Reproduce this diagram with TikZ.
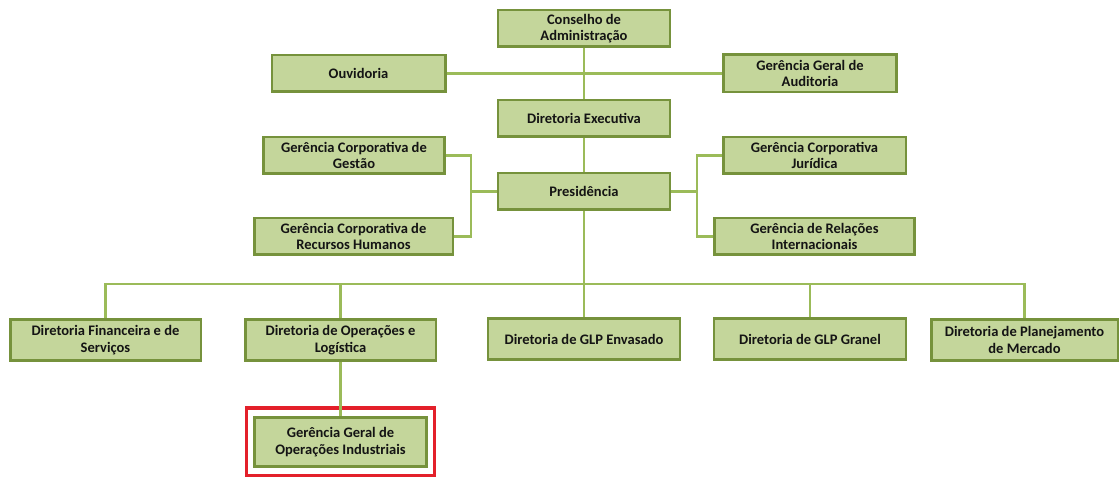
\documentclass[tikz,border=0pt]{standalone}
\usepackage{fontspec}
\setmainfont{Carlito}
\usetikzlibrary{fit}
\definecolor{boxfill}{HTML}{C4D69B}
\definecolor{boxline}{HTML}{76923C}
\definecolor{conline}{HTML}{9BBB59}
\definecolor{txt}{HTML}{141414}
\definecolor{hl}{HTML}{E3202A}
\begin{document}
\begin{tikzpicture}[x=0.75pt,y=-0.75pt,
  orgbox/.style={draw=boxline, fill=boxfill, line width=2pt, align=center,
    inner sep=0pt, text=txt, font=\bfseries\fontsize{10.9}{12.5}\selectfont},
  conn/.style={draw=conline, line width=1.6pt},
  redframe/.style={draw=hl, line width=2.4pt, inner xsep=4.9pt, inner ysep=6pt}]
\useasboundingbox (0,0) rectangle (1120,477);
% nodes
\node[orgbox, minimum width=129pt, minimum height=27.5pt] (cons) at (584,28.5) {Conselho de\\Administração};
\node[orgbox, minimum width=130pt, minimum height=27.5pt] (ouv) at (358.5,73.5) {Ouvidoria};
\node[orgbox, minimum width=130pt, minimum height=28pt] (aud) at (810,73.5) {Gerência Geral de\\Auditoria};
\node[orgbox, minimum width=129pt, minimum height=27.5pt] (dexe) at (584,118.5) {Diretoria Executiva};
\node[orgbox, minimum width=136pt, minimum height=27.5pt] (gest) at (354,155.5) {Gerência Corporativa de\\Gestão};
\node[orgbox, minimum width=129pt, minimum height=27.5pt] (pres) at (584,191.5) {Presidência};
\node[orgbox, minimum width=149pt, minimum height=27.5pt] (rh) at (353.5,236.5) {Gerência Corporativa de\\Recursos Humanos};
\node[orgbox, minimum width=137pt, minimum height=27.5pt] (jur) at (814.5,155.5) {Gerência Corporativa\\Jurídica};
\node[orgbox, minimum width=150pt, minimum height=27.5pt] (rel) at (814.5,236.5) {Gerência de Relações\\Internacionais};
\node[orgbox, minimum width=143pt, minimum height=31pt] (fin) at (105.5,340) {Diretoria Financeira e de\\Serviços};
\node[orgbox, minimum width=143pt, minimum height=31pt] (ope) at (340.5,340) {Diretoria de Operações e\\Logística};
\node[orgbox, minimum width=144pt, minimum height=31pt] (env) at (584,339) {Diretoria de GLP Envasado};
\node[orgbox, minimum width=144pt, minimum height=31pt] (gra) at (810,339) {Diretoria de GLP Granel};
\node[orgbox, minimum width=140pt, minimum height=31pt] (pla) at (1024.5,340) {Diretoria de Planejamento\\de Mercado};
\node[orgbox, minimum width=129pt, minimum height=37pt] (ggoi) at (340.5,442) {Gerência Geral de\\Operações Industriais};
\node[redframe, fit=(ggoi)] (hlf) {};
% helper coordinates
\coordinate (lb) at (471,191.5);
\coordinate (rb) at (697,191.5);
\coordinate (bus) at (584,284);
% connectors
\draw[conn] (cons.south) -- (dexe.north);
\draw[conn] (ouv.east) -- (aud.west);
\draw[conn] (dexe.south) -- (pres.north);
\draw[conn] (gest.east) -| (lb) |- (rh.east);
\draw[conn] (lb) -- (pres.west);
\draw[conn] (jur.west) -| (rb) |- (rel.west);
\draw[conn] (rb) -- (pres.east);
\draw[conn] (pres.south) -- (env.north);
\draw[conn] (fin.north) -- (fin.north |- bus) -- (pla.north |- bus) -- (pla.north);
\draw[conn] (ope.north) -- (ope.north |- bus);
\draw[conn] (gra.north) -- (gra.north |- bus);
\draw[conn] (ope.south) -- (ggoi.north);
\end{tikzpicture}
\end{document}
